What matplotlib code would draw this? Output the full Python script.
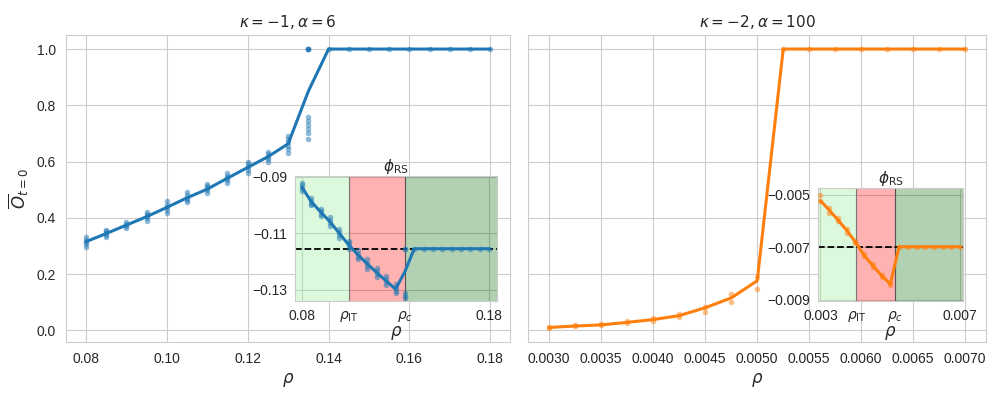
import matplotlib as mpl
mpl.use("Agg")
import matplotlib.pyplot as plt
import numpy as np
import seaborn as sns


# ---- panel A: kappa = -1, alpha = 6 ----
rho_a = [0.080, 0.085, 0.090, 0.095, 0.100, 0.105, 0.110, 0.115, 0.120, 0.125,
         0.130, 0.135, 0.140, 0.145, 0.150, 0.155, 0.160, 0.165, 0.170, 0.175, 0.180]
overlap_a_mean = [0.315, 0.344, 0.374, 0.404, 0.437, 0.471, 0.502, 0.541, 0.579, 0.617,
                  0.663, 0.850, 1.0, 1.0, 1.0, 1.0, 1.0, 1.0, 1.0, 1.0, 1.0]
overlap_a_samples = [
    [0.295, 0.305, 0.315, 0.322, 0.330],
    [0.330, 0.338, 0.345, 0.352, 0.358],
    [0.362, 0.370, 0.378, 0.385],
    [0.390, 0.398, 0.405, 0.412, 0.420],
    [0.418, 0.428, 0.437, 0.446, 0.458],
    [0.455, 0.464, 0.472, 0.480, 0.490],
    [0.488, 0.497, 0.505, 0.512, 0.520],
    [0.525, 0.535, 0.542, 0.550, 0.560],
    [0.560, 0.570, 0.580, 0.590, 0.600],
    [0.598, 0.608, 0.617, 0.626, 0.635],
    [0.632, 0.645, 0.655, 0.668, 0.680, 0.690],
    [1.0, 1.0, 1.0, 1.0, 0.680, 0.700, 0.715, 0.730, 0.745, 0.760],
    [1.0], [1.0], [1.0], [1.0], [1.0], [1.0], [1.0], [1.0], [1.0],
]
rs_a_mean = [-0.0937, -0.0988, -0.1024, -0.1059, -0.1100, -0.1141, -0.1176, -0.1208,
             -0.1239, -0.1268, -0.1297, -0.1235, -0.1154, -0.1154, -0.1154, -0.1154,
             -0.1154, -0.1154, -0.1154, -0.1154, -0.1154]
rs_a_samples = [
    [-0.0920, -0.0930, -0.0940, -0.0950],
    [-0.0975, -0.0985, -0.0995, -0.1000],
    [-0.1012, -0.1022, -0.1030, -0.1038],
    [-0.1040, -0.1052, -0.1062, -0.1072],
    [-0.1085, -0.1095, -0.1105, -0.1115],
    [-0.1125, -0.1135, -0.1145, -0.1155],
    [-0.1160, -0.1172, -0.1182, -0.1192],
    [-0.1192, -0.1204, -0.1214, -0.1224],
    [-0.1222, -0.1234, -0.1244, -0.1254],
    [-0.1252, -0.1262, -0.1272, -0.1282],
    [-0.1280, -0.1292, -0.1302, -0.1312],
    [-0.1155, -0.1155, -0.1310, -0.1320, -0.1330],
    [-0.1154], [-0.1154], [-0.1154], [-0.1154], [-0.1154], [-0.1154], [-0.1154],
    [-0.1154], [-0.1154],
]
rho_it_a = 0.1051
rho_c_a = 0.1351
inset_a_xlim = (0.0763, 0.1843)
inset_a_ylim = (-0.1339, -0.0897)
inset_a_yticks = [-0.09, -0.11, -0.13]

# ---- panel B: kappa = -2, alpha = 100 ----
rho_b = [0.00300, 0.00325, 0.00350, 0.00375, 0.00400, 0.00425, 0.00450, 0.00475, 0.00500,
         0.00525, 0.00550, 0.00575, 0.00600, 0.00625, 0.00650, 0.00675, 0.00700]
overlap_b_mean = [0.010, 0.015, 0.019, 0.028, 0.038, 0.052, 0.080, 0.115, 0.176,
                  1.0, 1.0, 1.0, 1.0, 1.0, 1.0, 1.0, 1.0]
overlap_b_samples = [
    [0.008, 0.012],
    [0.014, 0.017],
    [0.018, 0.021],
    [0.024, 0.032],
    [0.033, 0.042],
    [0.046, 0.058],
    [0.065, 0.083],
    [0.100, 0.130],
    [0.147, 0.190],
    [1.0], [1.0], [1.0], [1.0], [1.0], [1.0], [1.0], [1.0],
]
rs_b_mean = [-0.00522, -0.00558, -0.00596, -0.00635, -0.00680, -0.00731, -0.00770,
             -0.00808, -0.00840, -0.00698, -0.00698, -0.00698, -0.00698, -0.00698,
             -0.00698, -0.00698, -0.00698]
rs_b_samples = [
    [-0.00500, -0.00525],
    [-0.00550, -0.00570],
    [-0.00590, -0.00600],
    [-0.00630, -0.00645],
    [-0.00675, -0.00685],
    [-0.00725, -0.00735],
    [-0.00765, -0.00775],
    [-0.00805, -0.00812],
    [-0.00838, -0.00845],
    [-0.00698], [-0.00698], [-0.00698], [-0.00698], [-0.00698], [-0.00698],
    [-0.00698], [-0.00698],
]
rho_it_b = 0.00403
rho_c_b = 0.00513
inset_b_xlim = (0.00293, 0.00708)
inset_b_ylim = (-0.00905, -0.00474)
inset_b_yticks = [-0.005, -0.007, -0.009]


def flatten(xs, samples):
    px, py = [], []
    for x, ys in zip(xs, samples):
        px.extend([x] * len(ys))
        py.extend(ys)
    return np.array(px), np.array(py)


def draw_main(ax, xs, mean, samples, color, title):
    px, py = flatten(xs, samples)
    ax.scatter(px, py, s=16, color=color, alpha=0.5, linewidths=0, zorder=3)
    ax.plot(xs, mean, color=color, linewidth=2.2, zorder=4)
    ax.set_title(title, fontsize=11)
    ax.set_xlabel(r"$\rho$", fontsize=12)


def draw_inset(fig, rect, xs, mean, samples, color, rho_it, rho_c, xlim, ylim, yticks, xlabels):
    ax = fig.add_axes(rect)
    ax.set_xlim(*xlim)
    ax.set_ylim(*ylim)
    ax.axvspan(xlim[0], rho_it, color="lightgreen", alpha=0.3, linewidth=0)
    ax.axvspan(rho_it, rho_c, color="red", alpha=0.3, linewidth=0)
    ax.axvspan(rho_c, xlim[1], color="darkgreen", alpha=0.3, linewidth=0)
    ax.axvline(rho_it, color="#777777", linewidth=0.8)
    ax.axvline(rho_c, color="#555555", linewidth=0.8)
    ax.axhline(mean[-1], color="black", linestyle="--", linewidth=1.3, zorder=2)
    px, py = flatten(xs, samples)
    ax.scatter(px, py, s=16, color=color, alpha=0.5, linewidths=0, zorder=3)
    ax.plot(xs, mean, color=color, linewidth=2.2, zorder=4)
    ax.set_xticks([xs[0], rho_it, rho_c, xs[-1]])
    ax.set_xticklabels(xlabels)
    ax.set_yticks(yticks)
    ax.set_yticklabels([f"{t:g}".replace("-", "\u2212") for t in yticks])
    ax.set_xlabel(r"$\rho$", fontsize=12, labelpad=0)
    ax.set_title(r"$\phi_{\rm RS}$", fontsize=11, pad=4)
    ax.tick_params(labelsize=10, pad=2)
    return ax


def main():
    sns.set_style("whitegrid")
    plt.rcParams["font.family"] = ["Liberation Sans", "DejaVu Sans"]
    plt.rcParams["axes.unicode_minus"] = True

    fig = plt.figure(figsize=(9.97, 3.99), dpi=100)
    ax_a = fig.add_axes([0.066, 0.143, 0.446, 0.769])
    ax_b = fig.add_axes([0.530, 0.143, 0.459, 0.769], sharey=ax_a)

    draw_main(ax_a, rho_a, overlap_a_mean, overlap_a_samples, "#1f77b4",
              r"$\kappa = -1, \alpha = 6$")
    draw_main(ax_b, rho_b, overlap_b_mean, overlap_b_samples, "#ff7f0e",
              r"$\kappa = -2, \alpha = 100$")
    ax_a.set_ylabel(r"$\overline{O}_{t=0}$", fontsize=12)
    ax_a.set_xticks([0.08, 0.10, 0.12, 0.14, 0.16, 0.18])
    ax_a.set_yticks([0.0, 0.2, 0.4, 0.6, 0.8, 1.0])
    ax_b.set_xticks([0.0030, 0.0035, 0.0040, 0.0045, 0.0050, 0.0055, 0.0060, 0.0065, 0.0070])
    ax_b.xaxis.set_major_formatter(mpl.ticker.FormatStrFormatter("%.4f"))
    plt.setp(ax_b.get_yticklabels(), visible=False)
    for ax in (ax_a, ax_b):
        ax.tick_params(labelsize=10)

    rho_sym = [r"$\rho_{\rm IT}$", r"$\rho_c$"]
    draw_inset(fig, [0.296, 0.2456, 0.2026, 0.313], rho_a, rs_a_mean, rs_a_samples, "#1f77b4",
               rho_it_a, rho_c_a, inset_a_xlim, inset_a_ylim, inset_a_yticks,
               ["0.08"] + rho_sym + ["0.18"])
    draw_inset(fig, [0.8205, 0.2456, 0.1454, 0.283], rho_b, rs_b_mean, rs_b_samples, "#ff7f0e",
               rho_it_b, rho_c_b, inset_b_xlim, inset_b_ylim, inset_b_yticks,
               ["0.003"] + rho_sym + ["0.007"])

    fig.savefig("out.png", dpi=100)
    plt.close(fig)


if __name__ == "__main__":
    main()
